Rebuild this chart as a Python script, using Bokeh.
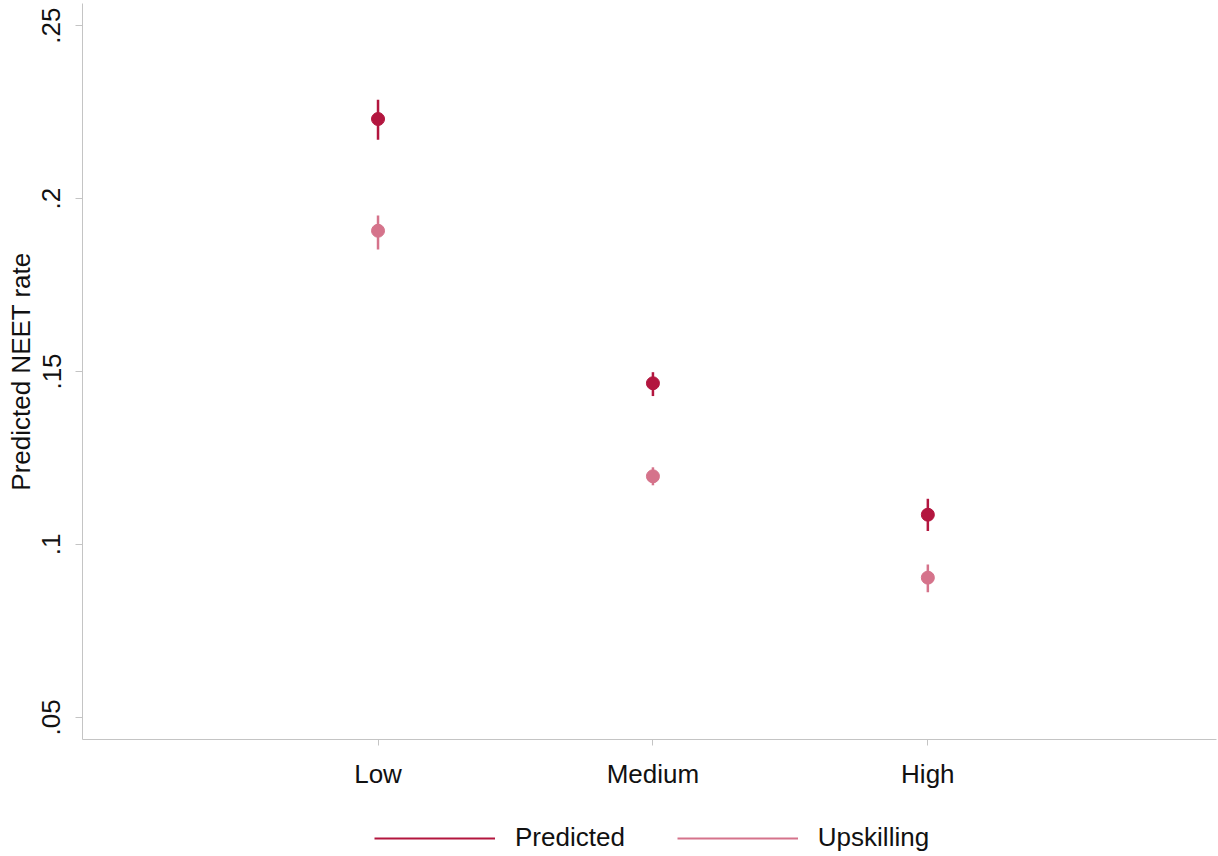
from bokeh.plotting import figure
from bokeh.layouts import column
from bokeh.models import ColumnDataSource, FixedTicker, Range1d, Legend, LegendItem
from bokeh.embed import file_html
from bokeh.resources import INLINE

# Education level categories (plotted at positions 1..3)
levels = ["Low", "Medium", "High"]
level_pos = [1, 2, 3]

# Predicted NEET rate with 95% confidence bounds
predicted = [0.2230, 0.1466, 0.1086]
predicted_lo = [0.2170, 0.1429, 0.1039]
predicted_hi = [0.2286, 0.1498, 0.1132]

# Scenario: upskilling
upskilling = [0.1907, 0.1197, 0.0904]
upskilling_lo = [0.1853, 0.1171, 0.0862]
upskilling_hi = [0.1951, 0.1223, 0.0942]

y_ticks = [0.05, 0.10, 0.15, 0.20, 0.25]
y_tick_labels = [".05", ".1", ".15", ".2", ".25"]

series_names = ["Predicted", "Upskilling"]

DARK = "#B3163F"
LIGHT = "#D5738B"
AXIS_GREY = "#C4C4C4"
TEXT = "#111111"
FONT = "Liberation Sans"
FS = "26px"

p = figure(
    width=1218, height=794,
    x_range=Range1d(-0.075, 4.05), y_range=Range1d(0.0436, 0.2564),
    output_backend="svg", toolbar_location=None,
    min_border_left=82, min_border_right=2, min_border_top=3, min_border_bottom=55,
)
p.outline_line_color = None
p.grid.visible = False
p.background_fill_color = "white"
p.border_fill_color = "white"

src_pred = ColumnDataSource(dict(x=level_pos, y=predicted, lo=predicted_lo, hi=predicted_hi))
src_up = ColumnDataSource(dict(x=level_pos, y=upskilling, lo=upskilling_lo, hi=upskilling_hi))

p.segment(x0="x", y0="lo", x1="x", y1="hi", source=src_pred, line_color=DARK, line_width=2.5)
p.scatter(x="x", y="y", source=src_pred, size=13, fill_color=DARK, line_color=DARK)
p.segment(x0="x", y0="lo", x1="x", y1="hi", source=src_up, line_color=LIGHT, line_width=2.5)
p.scatter(x="x", y="y", source=src_up, size=13, fill_color=LIGHT, line_color=LIGHT)

# X axis: categories
p.xaxis.ticker = FixedTicker(ticks=level_pos)
p.xaxis.major_label_overrides = {float(k): v for k, v in zip(level_pos, levels)}
p.xaxis.minor_tick_line_color = None
p.xaxis.major_tick_out = 6
p.xaxis.major_tick_in = 0
p.xaxis.axis_line_color = AXIS_GREY
p.xaxis.major_tick_line_color = AXIS_GREY
p.xaxis.major_label_text_font = FONT
p.xaxis.major_label_text_font_size = FS
p.xaxis.major_label_text_color = TEXT
p.xaxis.major_label_standoff = 13

# Y axis
p.yaxis.ticker = FixedTicker(ticks=y_ticks)
p.yaxis.major_label_overrides = {t: s for t, s in zip(y_ticks, y_tick_labels)}
p.yaxis.minor_tick_line_color = None
p.yaxis.major_tick_out = 7
p.yaxis.major_tick_in = 0
p.yaxis.axis_line_color = AXIS_GREY
p.yaxis.major_tick_line_color = AXIS_GREY
p.yaxis.major_label_orientation = "parallel"
p.yaxis.major_label_text_font = FONT
p.yaxis.major_label_text_font_size = FS
p.yaxis.major_label_text_color = TEXT
p.yaxis.major_label_standoff = 15
p.yaxis.axis_label = "Predicted NEET rate"
p.yaxis.axis_label_text_font = FONT
p.yaxis.axis_label_text_font_size = FS
p.yaxis.axis_label_text_font_style = "normal"
p.yaxis.axis_label_text_color = TEXT
p.yaxis.axis_label_standoff = 4

# Legend strip beneath the chart (its frame lines up with the chart frame)
lf = figure(
    width=1218, height=62, x_range=Range1d(0, 1), y_range=Range1d(0, 1),
    x_axis_type=None, y_axis_type=None,
    output_backend="svg", toolbar_location=None,
    min_border_left=0, min_border_right=0, min_border_top=0, min_border_bottom=0,
)
lf.outline_line_color = None
lf.grid.visible = False
lf.border_fill_color = "white"

# key renderers: a single segment parked outside the visible range
key_src = dict(x0=[-5], y0=[-5], x1=[-4], y1=[-5])
key_pred = lf.segment(x0="x0", y0="y0", x1="x1", y1="y1",
                      source=ColumnDataSource(key_src), line_color=DARK, line_width=2)
key_up = lf.segment(x0="x0", y0="y0", x1="x1", y1="y1",
                    source=ColumnDataSource(key_src), line_color=LIGHT, line_width=2)

legend = Legend(
    items=[LegendItem(label=series_names[0], renderers=[key_pred]),
           LegendItem(label=series_names[1], renderers=[key_up])],
    orientation="horizontal", location=(292, 3),
    glyph_width=121, glyph_height=30, label_standoff=20, spacing=52,
    label_text_font=FONT, label_text_font_size=FS, label_text_color=TEXT,
    border_line_color=None, background_fill_alpha=0, padding=2, margin=0,
)
lf.add_layout(legend, "center")

layout = column(p, lf, spacing=0)
open("out.html", "w").write(file_html(layout, INLINE))
